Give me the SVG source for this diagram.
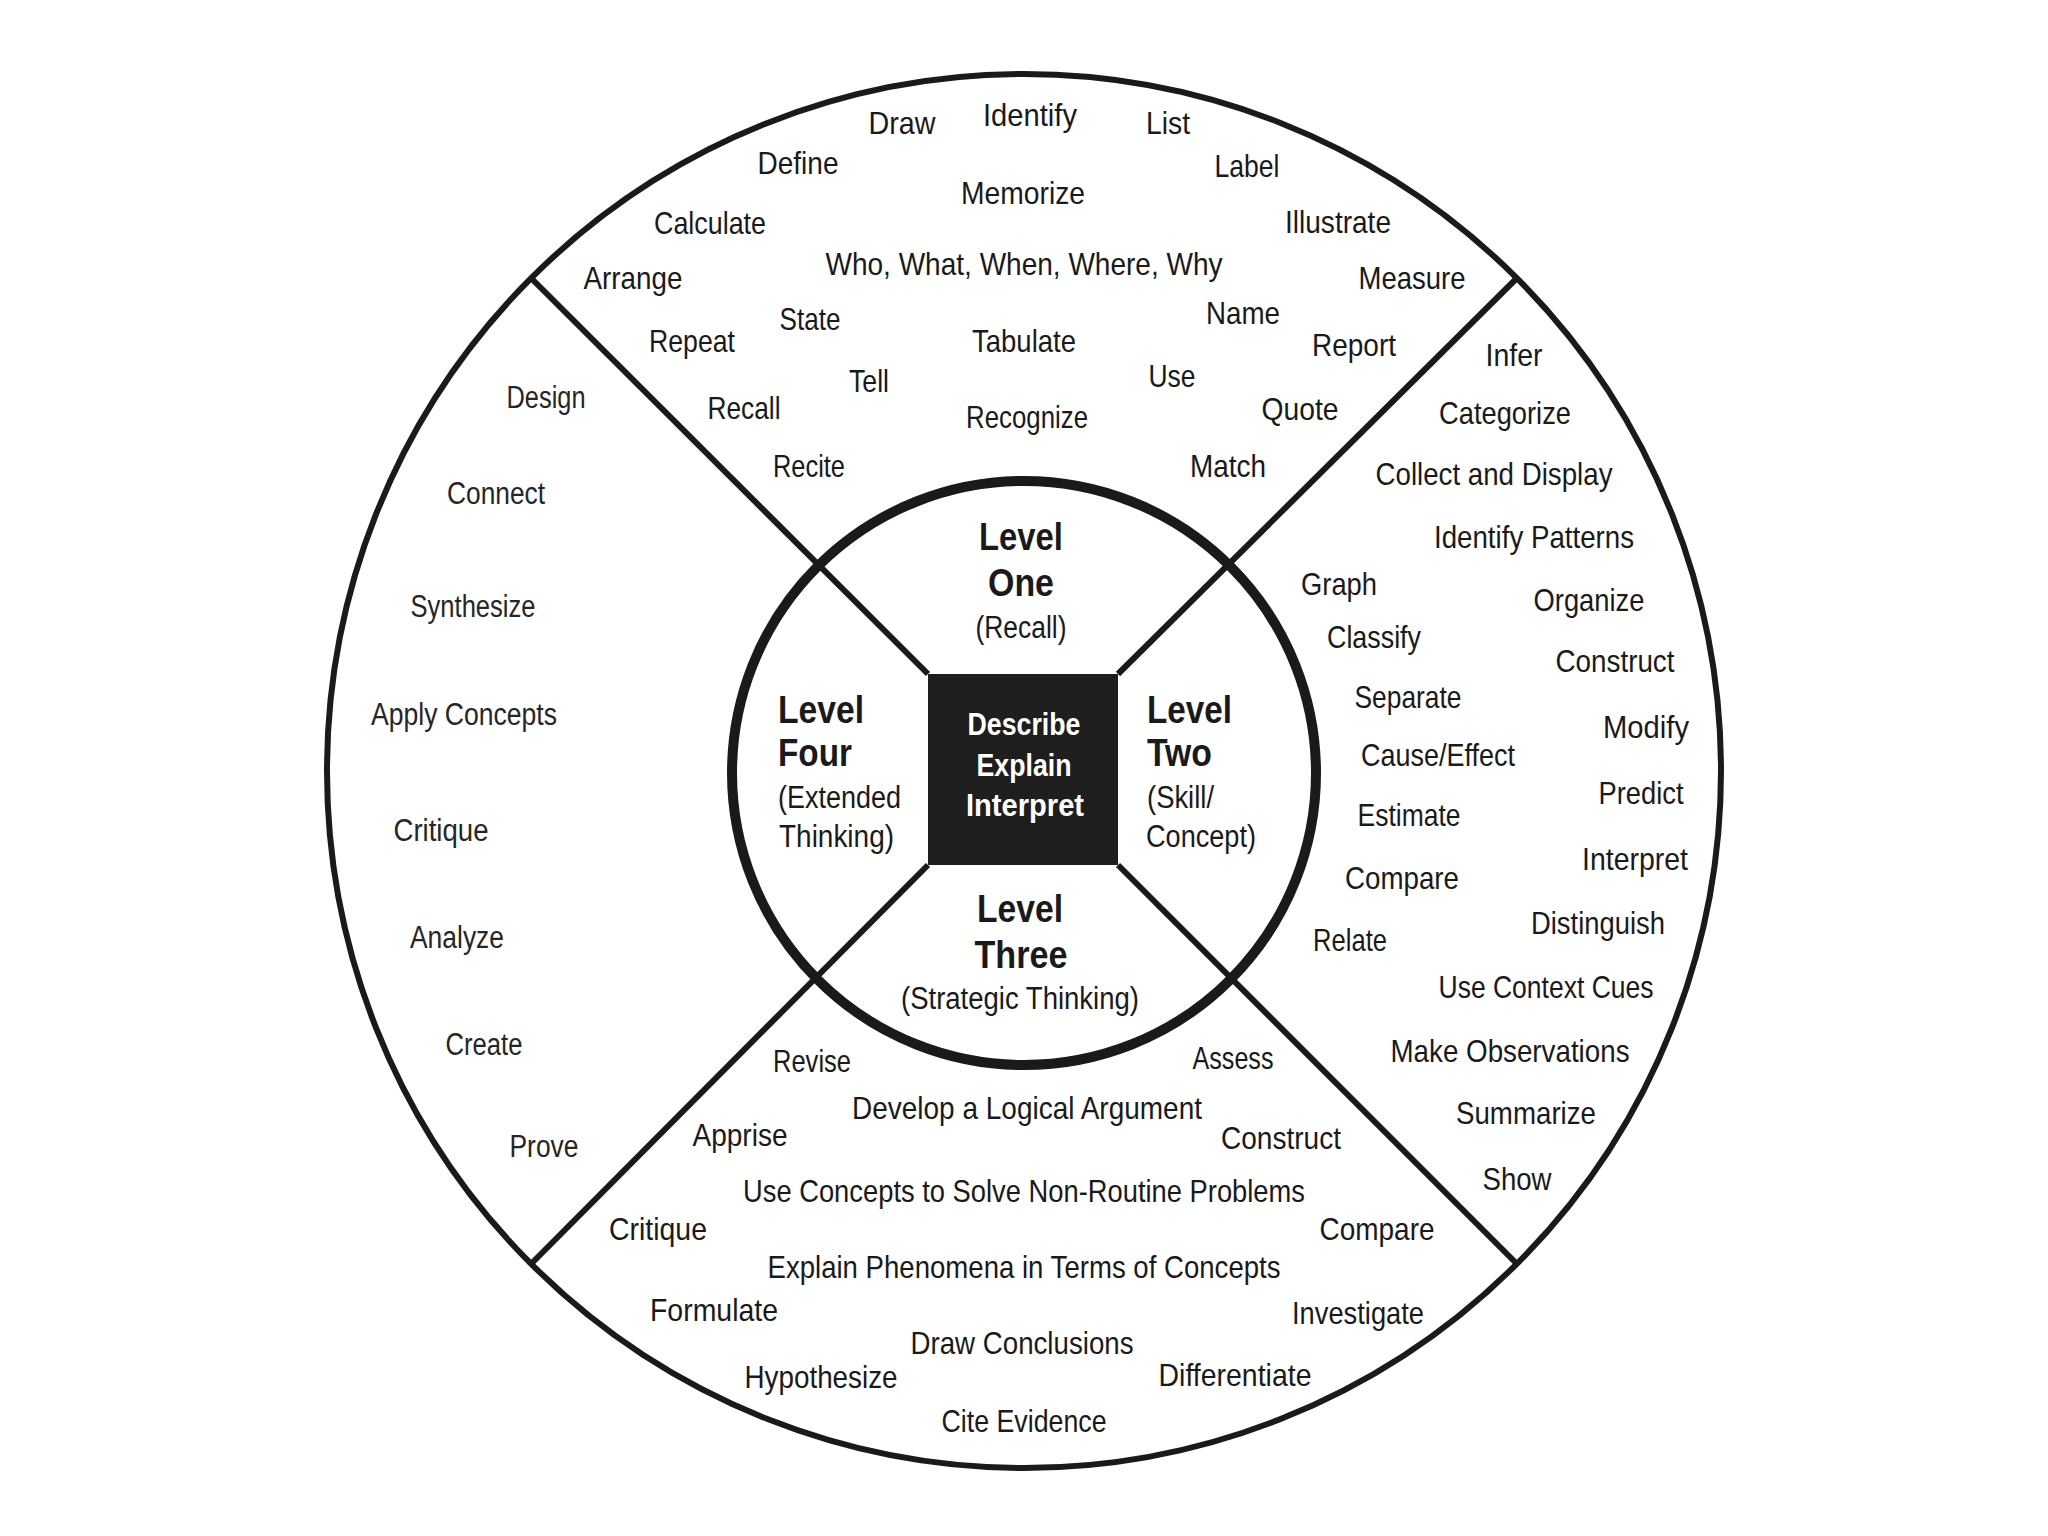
<svg xmlns="http://www.w3.org/2000/svg" width="2048" height="1536" viewBox="0 0 2048 1536">
<style>
.w{font-family:"Liberation Sans",Arial,sans-serif;font-size:32px;fill:#1a1a1a;text-anchor:middle}
.l{font-family:"Liberation Sans",Arial,sans-serif;font-size:31px;fill:#262626;text-anchor:middle}
.b{font-family:"Liberation Sans",Arial,sans-serif;font-size:39px;font-weight:bold;fill:#1a1a1a}
.s{font-family:"Liberation Sans",Arial,sans-serif;font-size:31px;fill:#1a1a1a}
.c{font-family:"Liberation Sans",Arial,sans-serif;font-size:32px;font-weight:bold;fill:#ffffff;text-anchor:middle}
.m{text-anchor:middle}
.st{text-anchor:start}
.ln{stroke:#1a1a1a;stroke-width:6;fill:none}
</style>
<rect x="0" y="0" width="2048" height="1536" fill="#ffffff"/>
<g id="outer-circle">
<circle cx="1024" cy="771" r="697" class="ln"/>
</g>
<g id="connectors">
<line x1="928" y1="674" x2="531" y2="278" class="ln"/>
<line x1="1118" y1="674" x2="1517" y2="278" class="ln"/>
<line x1="928" y1="865" x2="531" y2="1264" class="ln"/>
<line x1="1118" y1="865" x2="1517" y2="1264" class="ln"/>
</g>
<g id="inner-circle">
<circle cx="1024" cy="773" r="292" fill="none" stroke="#1a1a1a" stroke-width="10"/>
</g>
<g id="center">
<rect x="928" y="674" width="190" height="191" fill="#1e1e1e"/>
<text class="c" x="1024" y="735" textLength="113" lengthAdjust="spacingAndGlyphs">Describe</text>
<text class="c" x="1024" y="776" textLength="95" lengthAdjust="spacingAndGlyphs">Explain</text>
<text class="c" x="1025" y="816" textLength="118" lengthAdjust="spacingAndGlyphs">Interpret</text>
</g>
<g id="level-one-title">
<text class="b m" x="1021" y="550" textLength="84" lengthAdjust="spacingAndGlyphs">Level</text>
<text class="b m" x="1021" y="596" textLength="66" lengthAdjust="spacingAndGlyphs">One</text>
<text class="s m" x="1021" y="638" textLength="91" lengthAdjust="spacingAndGlyphs">(Recall)</text>
</g>
<g id="level-two-title">
<text class="b st" x="1147" y="723" textLength="85" lengthAdjust="spacingAndGlyphs">Level</text>
<text class="b st" x="1147" y="766" textLength="65" lengthAdjust="spacingAndGlyphs">Two</text>
<text class="s st" x="1147" y="808" textLength="67" lengthAdjust="spacingAndGlyphs">(Skill/</text>
<text class="s st" x="1146" y="847" textLength="110" lengthAdjust="spacingAndGlyphs">Concept)</text>
</g>
<g id="level-three-title">
<text class="b m" x="1020" y="922" textLength="86" lengthAdjust="spacingAndGlyphs">Level</text>
<text class="b m" x="1021" y="968" textLength="93" lengthAdjust="spacingAndGlyphs">Three</text>
<text class="s m" x="1020" y="1009" textLength="238" lengthAdjust="spacingAndGlyphs">(Strategic Thinking)</text>
</g>
<g id="level-four-title">
<text class="b st" x="778" y="723" textLength="86" lengthAdjust="spacingAndGlyphs">Level</text>
<text class="b st" x="778" y="766" textLength="74" lengthAdjust="spacingAndGlyphs">Four</text>
<text class="s st" x="778" y="808" textLength="123" lengthAdjust="spacingAndGlyphs">(Extended</text>
<text class="s st" x="779" y="847" textLength="115" lengthAdjust="spacingAndGlyphs">Thinking)</text>
</g>
<g id="level-one-words">
<text class="w" x="902" y="134" textLength="67" lengthAdjust="spacingAndGlyphs">Draw</text>
<text class="w" x="1030" y="126" textLength="94" lengthAdjust="spacingAndGlyphs">Identify</text>
<text class="w" x="1168" y="134" textLength="44" lengthAdjust="spacingAndGlyphs">List</text>
<text class="w" x="798" y="174" textLength="81" lengthAdjust="spacingAndGlyphs">Define</text>
<text class="w" x="1247" y="177" textLength="65" lengthAdjust="spacingAndGlyphs">Label</text>
<text class="w" x="1023" y="204" textLength="124" lengthAdjust="spacingAndGlyphs">Memorize</text>
<text class="w" x="710" y="234" textLength="112" lengthAdjust="spacingAndGlyphs">Calculate</text>
<text class="w" x="1338" y="233" textLength="106" lengthAdjust="spacingAndGlyphs">Illustrate</text>
<text class="w" x="633" y="289" textLength="99" lengthAdjust="spacingAndGlyphs">Arrange</text>
<text class="w" x="1024" y="275" textLength="397" lengthAdjust="spacingAndGlyphs">Who, What, When, Where, Why</text>
<text class="w" x="1412" y="289" textLength="107" lengthAdjust="spacingAndGlyphs">Measure</text>
<text class="w" x="1243" y="324" textLength="74" lengthAdjust="spacingAndGlyphs">Name</text>
<text class="w" x="810" y="330" textLength="61" lengthAdjust="spacingAndGlyphs">State</text>
<text class="w" x="692" y="352" textLength="86" lengthAdjust="spacingAndGlyphs">Repeat</text>
<text class="w" x="1024" y="352" textLength="104" lengthAdjust="spacingAndGlyphs">Tabulate</text>
<text class="w" x="1354" y="356" textLength="84" lengthAdjust="spacingAndGlyphs">Report</text>
<text class="w" x="1172" y="387" textLength="47" lengthAdjust="spacingAndGlyphs">Use</text>
<text class="w" x="869" y="392" textLength="40" lengthAdjust="spacingAndGlyphs">Tell</text>
<text class="w" x="744" y="419" textLength="73" lengthAdjust="spacingAndGlyphs">Recall</text>
<text class="w" x="1300" y="420" textLength="77" lengthAdjust="spacingAndGlyphs">Quote</text>
<text class="w" x="1027" y="428" textLength="122" lengthAdjust="spacingAndGlyphs">Recognize</text>
<text class="w" x="809" y="477" textLength="72" lengthAdjust="spacingAndGlyphs">Recite</text>
<text class="w" x="1228" y="477" textLength="76" lengthAdjust="spacingAndGlyphs">Match</text>
</g>
<g id="level-two-words">
<text class="w" x="1514" y="366" textLength="57" lengthAdjust="spacingAndGlyphs">Infer</text>
<text class="w" x="1505" y="424" textLength="132" lengthAdjust="spacingAndGlyphs">Categorize</text>
<text class="w" x="1494" y="485" textLength="237" lengthAdjust="spacingAndGlyphs">Collect and Display</text>
<text class="w" x="1534" y="548" textLength="200" lengthAdjust="spacingAndGlyphs">Identify Patterns</text>
<text class="w" x="1339" y="595" textLength="76" lengthAdjust="spacingAndGlyphs">Graph</text>
<text class="w" x="1589" y="611" textLength="111" lengthAdjust="spacingAndGlyphs">Organize</text>
<text class="w" x="1374" y="648" textLength="94" lengthAdjust="spacingAndGlyphs">Classify</text>
<text class="w" x="1615" y="672" textLength="119" lengthAdjust="spacingAndGlyphs">Construct</text>
<text class="w" x="1408" y="708" textLength="107" lengthAdjust="spacingAndGlyphs">Separate</text>
<text class="w" x="1646" y="738" textLength="86" lengthAdjust="spacingAndGlyphs">Modify</text>
<text class="w" x="1438" y="766" textLength="154" lengthAdjust="spacingAndGlyphs">Cause/Effect</text>
<text class="w" x="1641" y="804" textLength="85" lengthAdjust="spacingAndGlyphs">Predict</text>
<text class="w" x="1409" y="826" textLength="103" lengthAdjust="spacingAndGlyphs">Estimate</text>
<text class="w" x="1635" y="870" textLength="106" lengthAdjust="spacingAndGlyphs">Interpret</text>
<text class="w" x="1402" y="889" textLength="114" lengthAdjust="spacingAndGlyphs">Compare</text>
<text class="w" x="1598" y="934" textLength="134" lengthAdjust="spacingAndGlyphs">Distinguish</text>
<text class="w" x="1350" y="951" textLength="74" lengthAdjust="spacingAndGlyphs">Relate</text>
<text class="w" x="1546" y="998" textLength="215" lengthAdjust="spacingAndGlyphs">Use Context Cues</text>
<text class="w" x="1510" y="1062" textLength="239" lengthAdjust="spacingAndGlyphs">Make Observations</text>
<text class="w" x="1526" y="1124" textLength="140" lengthAdjust="spacingAndGlyphs">Summarize</text>
<text class="w" x="1517" y="1190" textLength="69" lengthAdjust="spacingAndGlyphs">Show</text>
</g>
<g id="level-three-words">
<text class="w" x="812" y="1072" textLength="78" lengthAdjust="spacingAndGlyphs">Revise</text>
<text class="w" x="1233" y="1069" textLength="81" lengthAdjust="spacingAndGlyphs">Assess</text>
<text class="w" x="1027" y="1119" textLength="350" lengthAdjust="spacingAndGlyphs">Develop a Logical Argument</text>
<text class="w" x="740" y="1146" textLength="95" lengthAdjust="spacingAndGlyphs">Apprise</text>
<text class="w" x="1281" y="1149" textLength="120" lengthAdjust="spacingAndGlyphs">Construct</text>
<text class="w" x="1024" y="1202" textLength="562" lengthAdjust="spacingAndGlyphs">Use Concepts to Solve Non-Routine Problems</text>
<text class="w" x="658" y="1240" textLength="98" lengthAdjust="spacingAndGlyphs">Critique</text>
<text class="w" x="1377" y="1240" textLength="115" lengthAdjust="spacingAndGlyphs">Compare</text>
<text class="w" x="1024" y="1278" textLength="513" lengthAdjust="spacingAndGlyphs">Explain Phenomena in Terms of Concepts</text>
<text class="w" x="714" y="1321" textLength="128" lengthAdjust="spacingAndGlyphs">Formulate</text>
<text class="w" x="1358" y="1324" textLength="132" lengthAdjust="spacingAndGlyphs">Investigate</text>
<text class="w" x="1022" y="1354" textLength="223" lengthAdjust="spacingAndGlyphs">Draw Conclusions</text>
<text class="w" x="821" y="1388" textLength="153" lengthAdjust="spacingAndGlyphs">Hypothesize</text>
<text class="w" x="1235" y="1386" textLength="153" lengthAdjust="spacingAndGlyphs">Differentiate</text>
<text class="w" x="1024" y="1432" textLength="165" lengthAdjust="spacingAndGlyphs">Cite Evidence</text>
</g>
<g id="level-four-words">
<text class="l" x="546" y="408" textLength="79" lengthAdjust="spacingAndGlyphs">Design</text>
<text class="l" x="496" y="504" textLength="98" lengthAdjust="spacingAndGlyphs">Connect</text>
<text class="l" x="473" y="617" textLength="125" lengthAdjust="spacingAndGlyphs">Synthesize</text>
<text class="l" x="464" y="725" textLength="186" lengthAdjust="spacingAndGlyphs">Apply Concepts</text>
<text class="l" x="441" y="841" textLength="95" lengthAdjust="spacingAndGlyphs">Critique</text>
<text class="l" x="457" y="948" textLength="94" lengthAdjust="spacingAndGlyphs">Analyze</text>
<text class="l" x="484" y="1055" textLength="77" lengthAdjust="spacingAndGlyphs">Create</text>
<text class="l" x="544" y="1157" textLength="69" lengthAdjust="spacingAndGlyphs">Prove</text>
</g>
</svg>
